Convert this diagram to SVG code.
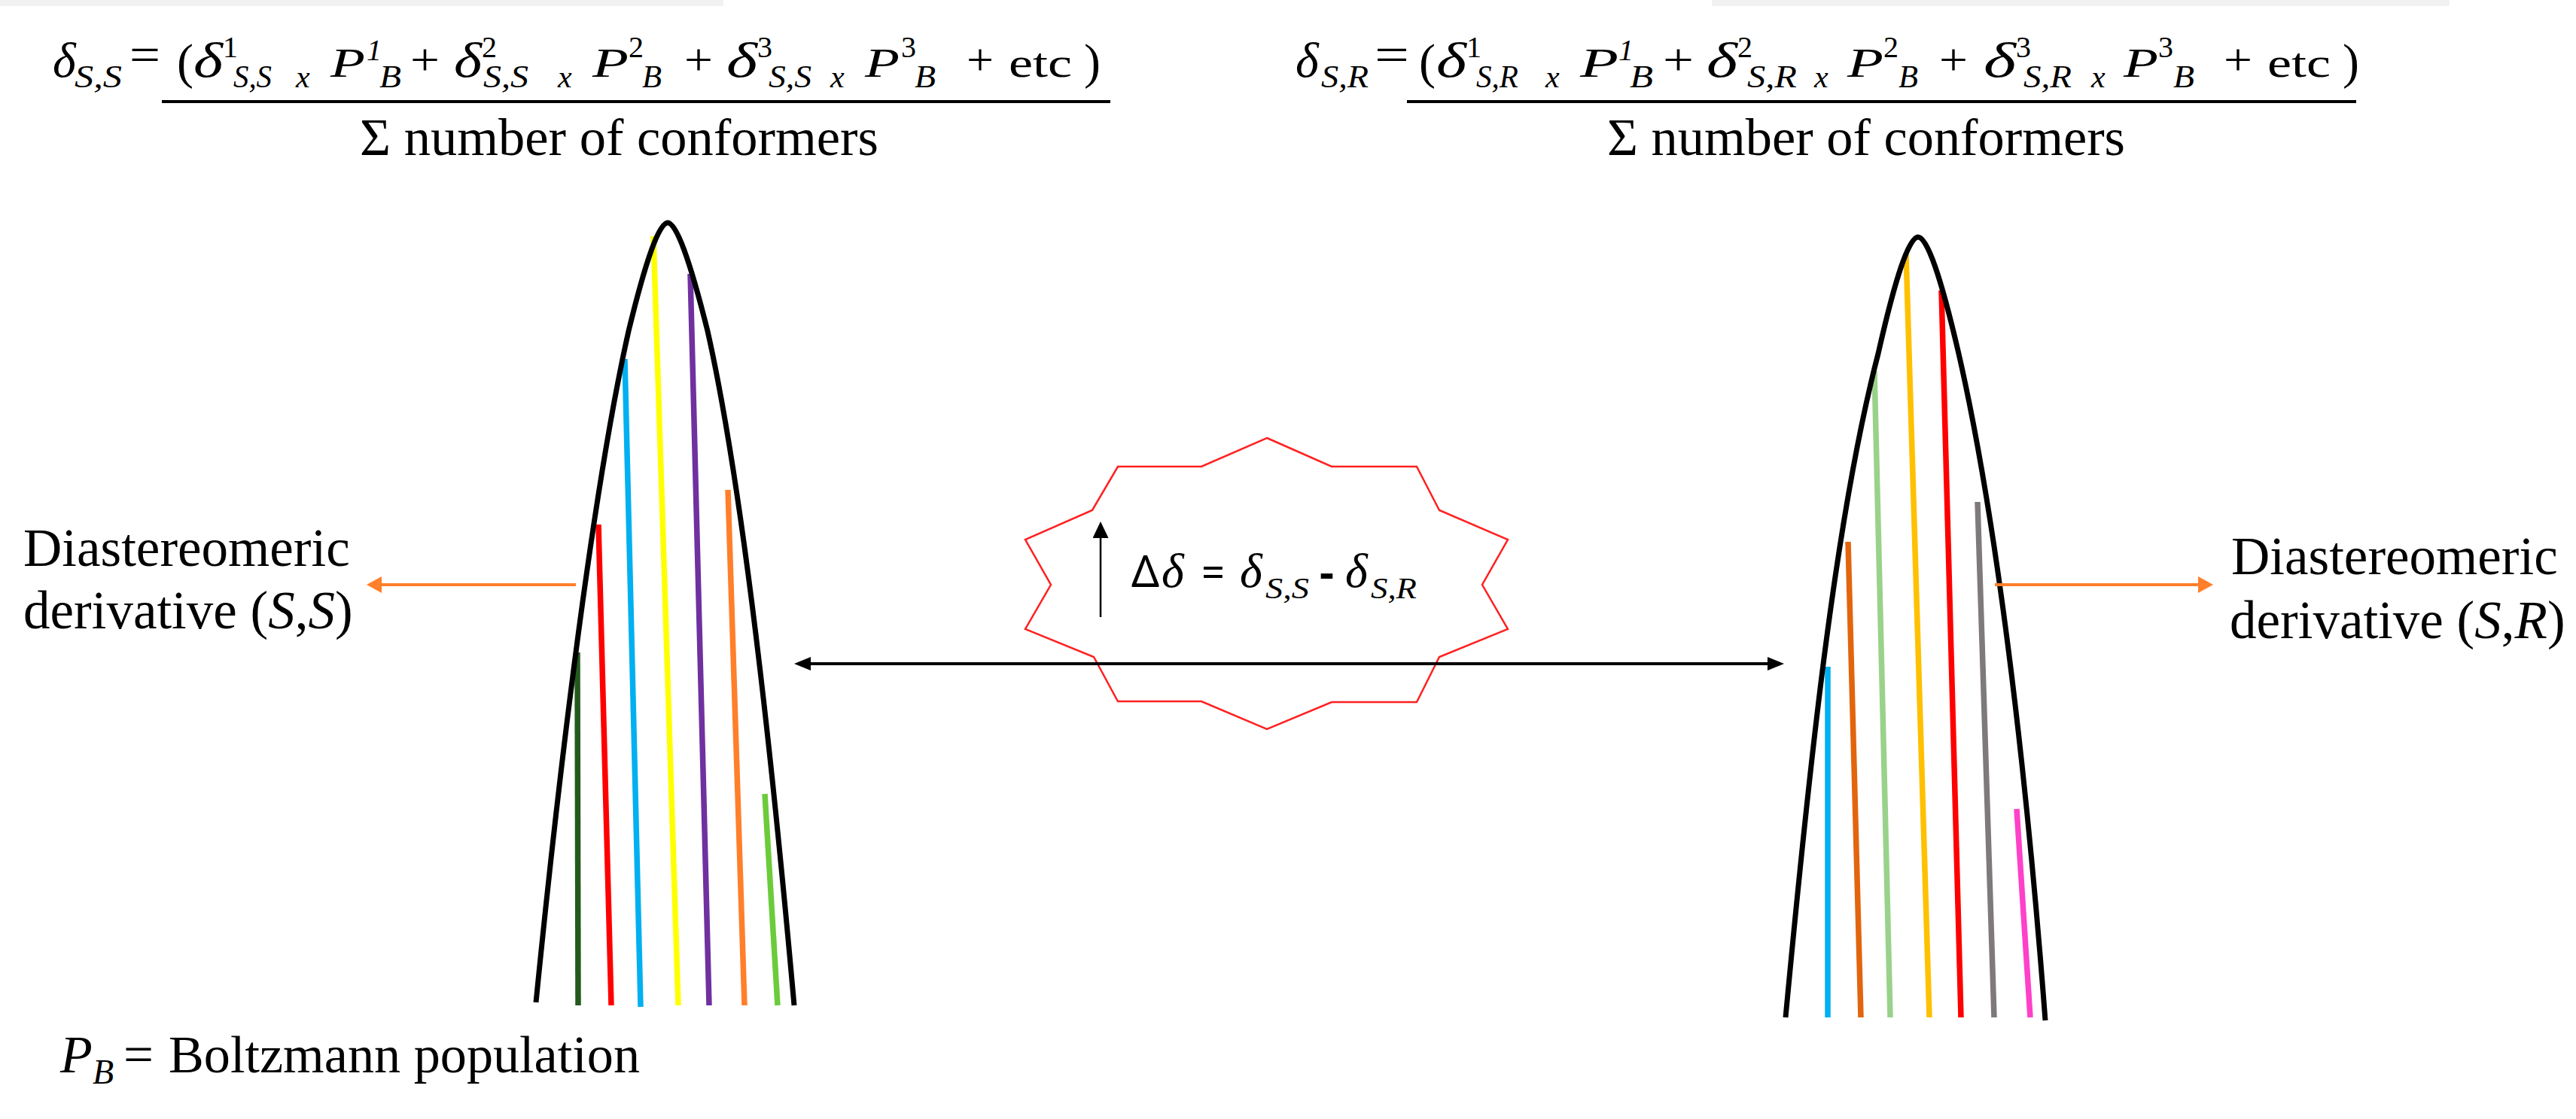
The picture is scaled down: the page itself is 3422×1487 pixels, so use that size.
<svg xmlns="http://www.w3.org/2000/svg" width="3422" height="1487" viewBox="0 0 3422 1487">
<style>
  text { font-family: "Liberation Serif", "Times New Roman", serif; fill: #000; }
  .i { font-style: italic; }
  .sans { font-family: "Noto Sans", "Liberation Sans", sans-serif; }
  .curve { fill: none; stroke: #000; stroke-width: 7; }
  .bar { stroke-width: 7.5; stroke-linecap: butt; fill: none; }
  .fr { stroke: #000; stroke-width: 4; }
</style>
<defs>
  <marker id="ao" markerUnits="userSpaceOnUse" viewBox="0 0 20 22" refX="2" refY="11" markerWidth="20" markerHeight="22" orient="auto">
    <path d="M0,0 L20,11 L0,22 z" fill="#FF7F2A"/>
  </marker>
  <marker id="ab" markerUnits="userSpaceOnUse" viewBox="0 0 22 18" refX="2" refY="9" markerWidth="22" markerHeight="18" orient="auto-start-reverse">
    <path d="M0,0 L22,9 L0,18 z" fill="#000"/>
  </marker>
  <marker id="as" markerUnits="userSpaceOnUse" viewBox="0 0 22 21" refX="2" refY="10.5" markerWidth="22" markerHeight="21" orient="auto">
    <path d="M0,0 L22,10.5 L0,21 z" fill="#000"/>
  </marker>
</defs>
<rect width="3422" height="1487" fill="#fff"/>
<rect x="0" y="0" width="961" height="8" fill="#f1f1f1"/>
<rect x="2274" y="0" width="980" height="8" fill="#f1f1f1"/>

<g id="formula-left">
  <text x="70" y="102" class="i" font-size="66">δ</text>
  <text x="99" y="116" class="i" font-size="42" textLength="63" lengthAdjust="spacingAndGlyphs">S,S</text>
  <text x="172" y="95" font-size="66" textLength="41" lengthAdjust="spacingAndGlyphs">=</text>
  <text x="235" y="104" font-size="66">(</text>
  <text x="257" y="102" class="i" font-size="66" textLength="39" lengthAdjust="spacingAndGlyphs">δ</text>
  <text x="296" y="76" font-size="40">1</text>
  <text x="310" y="116" class="i" font-size="42" textLength="51" lengthAdjust="spacingAndGlyphs">S,S</text>
  <text x="393" y="116" class="i" font-size="42">x</text>
  <text x="439" y="102" class="i" font-size="54" textLength="46" lengthAdjust="spacingAndGlyphs">P</text>
  <text x="487" y="80" class="i" font-size="40">1</text>
  <text x="504" y="116" class="i" font-size="42" textLength="29" lengthAdjust="spacingAndGlyphs">B</text>
  <text x="545" y="99" font-size="60" textLength="39" lengthAdjust="spacingAndGlyphs">+</text>
  <text x="603" y="102" class="i" font-size="66" textLength="37" lengthAdjust="spacingAndGlyphs">δ</text>
  <text x="640" y="76" font-size="40">2</text>
  <text x="642" y="116" class="i" font-size="42" textLength="60" lengthAdjust="spacingAndGlyphs">S,S</text>
  <text x="741" y="116" class="i" font-size="42">x</text>
  <text x="787" y="102" class="i" font-size="54" textLength="48" lengthAdjust="spacingAndGlyphs">P</text>
  <text x="835" y="76" font-size="40">2</text>
  <text x="853" y="116" class="i" font-size="42" textLength="26" lengthAdjust="spacingAndGlyphs">B</text>
  <text x="909" y="99" font-size="60" textLength="38" lengthAdjust="spacingAndGlyphs">+</text>
  <text x="965" y="102" class="i" font-size="66" textLength="41" lengthAdjust="spacingAndGlyphs">δ</text>
  <text x="1006" y="76" font-size="40">3</text>
  <text x="1021" y="116" class="i" font-size="42" textLength="57" lengthAdjust="spacingAndGlyphs">S,S</text>
  <text x="1103" y="116" class="i" font-size="42">x</text>
  <text x="1149" y="102" class="i" font-size="54" textLength="46" lengthAdjust="spacingAndGlyphs">P</text>
  <text x="1197" y="76" font-size="40">3</text>
  <text x="1215" y="116" class="i" font-size="42" textLength="28" lengthAdjust="spacingAndGlyphs">B</text>
  <text x="1284" y="99" font-size="60" textLength="36" lengthAdjust="spacingAndGlyphs">+</text>
  <text x="1340" y="102" font-size="54" textLength="84" lengthAdjust="spacingAndGlyphs">etc</text>
  <text x="1440" y="104" font-size="66">)</text>
  <line class="fr" x1="215" y1="135" x2="1475" y2="135"/>
  <text x="478" y="206" font-size="70" textLength="689" lengthAdjust="spacingAndGlyphs">Σ number of conformers</text>
</g>

<g id="formula-right">
  <text x="1721" y="102" class="i" font-size="66">δ</text>
  <text x="1755" y="116" class="i" font-size="42" textLength="63" lengthAdjust="spacingAndGlyphs">S,R</text>
  <text x="1826" y="95" font-size="66" textLength="46" lengthAdjust="spacingAndGlyphs">=</text>
  <text x="1885" y="104" font-size="66">(</text>
  <text x="1908" y="102" class="i" font-size="66" textLength="40" lengthAdjust="spacingAndGlyphs">δ</text>
  <text x="1948" y="76" font-size="40">1</text>
  <text x="1961" y="116" class="i" font-size="42" textLength="56" lengthAdjust="spacingAndGlyphs">S,R</text>
  <text x="2053" y="116" class="i" font-size="42">x</text>
  <text x="2099" y="102" class="i" font-size="54" textLength="51" lengthAdjust="spacingAndGlyphs">P</text>
  <text x="2150" y="80" class="i" font-size="40">1</text>
  <text x="2165" y="116" class="i" font-size="42" textLength="31" lengthAdjust="spacingAndGlyphs">B</text>
  <text x="2209" y="99" font-size="60" textLength="41" lengthAdjust="spacingAndGlyphs">+</text>
  <text x="2267" y="102" class="i" font-size="66" textLength="41" lengthAdjust="spacingAndGlyphs">δ</text>
  <text x="2308" y="76" font-size="40">2</text>
  <text x="2321" y="116" class="i" font-size="42" textLength="66" lengthAdjust="spacingAndGlyphs">S,R</text>
  <text x="2410" y="116" class="i" font-size="42">x</text>
  <text x="2454" y="102" class="i" font-size="54" textLength="48" lengthAdjust="spacingAndGlyphs">P</text>
  <text x="2502" y="76" font-size="40">2</text>
  <text x="2522" y="116" class="i" font-size="42" textLength="26" lengthAdjust="spacingAndGlyphs">B</text>
  <text x="2576" y="99" font-size="60" textLength="38" lengthAdjust="spacingAndGlyphs">+</text>
  <text x="2635" y="102" class="i" font-size="66" textLength="43" lengthAdjust="spacingAndGlyphs">δ</text>
  <text x="2678" y="76" font-size="40">3</text>
  <text x="2688" y="116" class="i" font-size="42" textLength="64" lengthAdjust="spacingAndGlyphs">S,R</text>
  <text x="2778" y="116" class="i" font-size="42">x</text>
  <text x="2821" y="102" class="i" font-size="54" textLength="46" lengthAdjust="spacingAndGlyphs">P</text>
  <text x="2867" y="76" font-size="40">3</text>
  <text x="2887" y="116" class="i" font-size="42" textLength="28" lengthAdjust="spacingAndGlyphs">B</text>
  <text x="2954" y="99" font-size="60" textLength="38" lengthAdjust="spacingAndGlyphs">+</text>
  <text x="3012" y="102" font-size="54" textLength="84" lengthAdjust="spacingAndGlyphs">etc</text>
  <text x="3112" y="104" font-size="66">)</text>
  <line class="fr" x1="1869" y1="135" x2="3130" y2="135"/>
  <text x="2135" y="206" font-size="70" textLength="688" lengthAdjust="spacingAndGlyphs">Σ number of conformers</text>
</g>

<g id="peak-left">
  <line class="bar" stroke="#235A1C" x1="767" y1="867" x2="768" y2="1336"/>
  <line class="bar" stroke="#FF0000" x1="795" y1="697" x2="812" y2="1336"/>
  <line class="bar" stroke="#00B0F0" x1="830" y1="477" x2="851" y2="1338"/>
  <line class="bar" stroke="#FFFF00" x1="868" y1="314" x2="901" y2="1336"/>
  <line class="bar" stroke="#7030A0" x1="917" y1="364" x2="942" y2="1336"/>
  <line class="bar" stroke="#FF7F2A" x1="967" y1="651" x2="989" y2="1336"/>
  <line class="bar" stroke="#6BCB3B" x1="1016" y1="1055" x2="1033" y2="1336"/>
  <path class="curve" d="M712,1332 C745,1000 790,640 835,440 Q870,296 887,296 Q904,296 940,440 C985,640 1025,1000 1055,1336"/>
</g>

<g id="peak-right">
  <line class="bar" stroke="#00B0F0" x1="2428" y1="886" x2="2428" y2="1352"/>
  <line class="bar" stroke="#E2650D" x1="2455" y1="720" x2="2472" y2="1352"/>
  <line class="bar" stroke="#99D28A" x1="2490" y1="493" x2="2511" y2="1352"/>
  <line class="bar" stroke="#FFC000" x1="2532" y1="337" x2="2563" y2="1352"/>
  <line class="bar" stroke="#FF0000" x1="2579" y1="386" x2="2605" y2="1352"/>
  <line class="bar" stroke="#7F7A7A" x1="2627" y1="667" x2="2649" y2="1352"/>
  <line class="bar" stroke="#FF40C8" x1="2679" y1="1075" x2="2697" y2="1352"/>
  <path class="curve" d="M2372,1352 C2405,1000 2440,680 2495,470 Q2530,315 2548,315 Q2566,315 2602,470 C2650,680 2690,1000 2717,1356"/>
</g>

<g id="label-left">
  <text x="31" y="752" font-size="71">Diastereomeric</text>
  <text x="31" y="835" font-size="71">derivative (<tspan class="i">S</tspan>,<tspan class="i">S</tspan>)</text>
</g>

<g id="label-right">
  <text x="2964" y="763" font-size="71">Diastereomeric</text>
  <text x="2962" y="848" font-size="71">derivative (<tspan class="i">S</tspan>,<tspan class="i">R</tspan>)</text>
</g>

<g id="delta-star">
  <polygon fill="none" stroke="#FF2020" stroke-width="2.5" points="1683,582 1769,620 1882,620 1912,678 2003,717 1969,777 2003,836 1912,873 1882,933 1769,933 1683,969 1596,932 1485,932 1453,873 1362,836 1396,777 1362,717 1451,678 1485,620 1596,620"/>
  <text x="1503" y="780" class="sans" font-size="58">Δ</text>
  <text x="1543" y="780" class="i" font-size="64">δ</text>
  <text x="1596" y="780" class="sans" font-size="56" textLength="31" lengthAdjust="spacingAndGlyphs">=</text>
  <text x="1647" y="780" class="i" font-size="64">δ</text>
  <text x="1681" y="795" class="i" font-size="40" textLength="58" lengthAdjust="spacingAndGlyphs">S,S</text>
  <text x="1753" y="780" class="sans" font-size="56" font-weight="bold" textLength="19" lengthAdjust="spacingAndGlyphs">-</text>
  <text x="1787" y="780" class="i" font-size="64">δ</text>
  <text x="1821" y="795" class="i" font-size="40" textLength="61" lengthAdjust="spacingAndGlyphs">S,R</text>
</g>

<g id="legend">
  <text x="80" y="1425" class="i" font-size="70">P</text>
  <text x="123" y="1440" class="i" font-size="46">B</text>
  <text x="164" y="1425" font-size="70" textLength="40" lengthAdjust="spacingAndGlyphs">=</text>
  <text x="224" y="1425" font-size="70" textLength="626" lengthAdjust="spacingAndGlyphs">Boltzmann population</text>
</g>

<g id="connectors">
  <line x1="765" y1="777" x2="505" y2="777" stroke="#FF7F2A" stroke-width="4" marker-end="url(#ao)"/>
  <line x1="2650" y1="777" x2="2922" y2="777" stroke="#FF7F2A" stroke-width="4" marker-end="url(#ao)"/>
  <line x1="1075" y1="882" x2="2350" y2="882" stroke="#000" stroke-width="4" marker-start="url(#ab)" marker-end="url(#ab)"/>
  <line x1="1462" y1="820" x2="1462" y2="713" stroke="#000" stroke-width="2.5" marker-end="url(#as)"/>
</g>
</svg>
